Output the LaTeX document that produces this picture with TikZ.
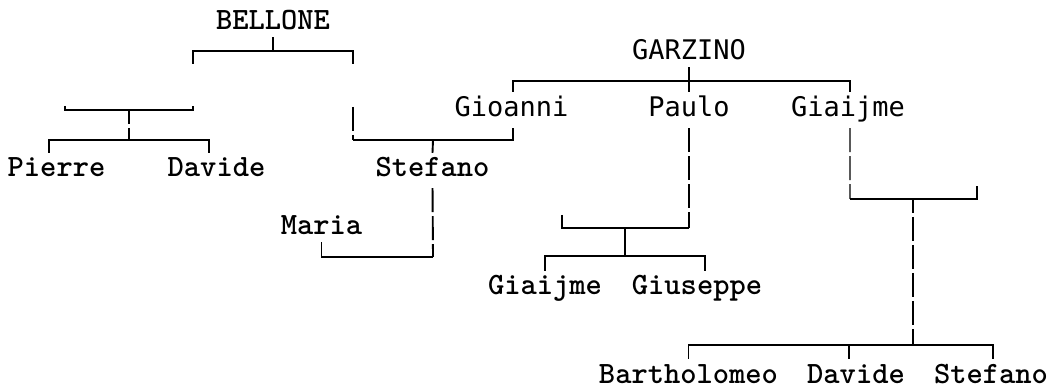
\documentclass[tikz,border=0pt]{standalone}
\usepackage{fontspec}
\newfontfamily\sansmono{DejaVu Sans Mono}
\tikzset{
  serifname/.style={anchor=base,inner xsep=0pt,inner ysep=7bp,text height=17bp,text depth=0pt,
    font=\fontsize{31bp}{31bp}\selectfont\ttfamily\bfseries},
  sansname/.style={anchor=base,inner xsep=0pt,inner ysep=7bp,text height=18bp,text depth=0pt,
    font=\fontsize{27bp}{27bp}\selectfont\sansmono},
  serifline/.style={line width=1.9bp},
  sansline/.style={line width=1.3bp},
  cellgap/.style={dash pattern=on 24bp off 4bp},
}
\begin{document}
\begin{tikzpicture}[line join=miter]
%%
\begin{scope}
  \fill [white] (0bp,0bp) rectangle (1049bp,385bp);
\end{scope}
  \node (bellone) at (273bp,355bp) [serifname] {BELLONE};
  \node (garzino) at (689bp,325bp) [sansname] {GARZINO};
  \node (gioanni) at (511.5bp,268bp) [sansname] {Gioanni};
  \node (paulo) at (689bp,268bp) [sansname] {Paulo};
  \node (giaijmeg) at (848bp,268bp) [sansname] {Giaijme};
  \node (pierre) at (56.5bp,208bp) [serifname] {Pierre};
  \node (davideb) at (216.5bp,208bp) [serifname] {Davide};
  \node (stefanob) at (432.5bp,208bp) [serifname] {Stefano};
  \node (maria) at (321.5bp,150bp) [serifname] {Maria};
  \node (giaijmep) at (545bp,90bp) [serifname] {Giaijme};
  \node (giuseppe) at (697bp,90bp) [serifname] {Giuseppe};
  \node (bartholomeo) at (688.5bp,2bp) [serifname] {Bartholomeo};
  \node (davideg) at (856bp,2bp) [serifname] {Davide};
  \node (stefanog) at (991bp,2bp) [serifname] {Stefano};
%
  \coordinate (bellmid) at (273bp,334bp);
  \coordinate (bellleft) at (193bp,321bp);
  \coordinate (bellright) at (353bp,321bp);
  \coordinate (pdleft) at (65bp,279bp);
  \coordinate (pdmid) at (129bp,275bp);
  \coordinate (pdright) at (193bp,279bp);
  \coordinate (pdkids) at (129bp,245bp);
  \coordinate (stleft) at (353bp,278bp);
  \coordinate (stcorner) at (353bp,245bp);
  \coordinate (stmid) at (433bp,245bp);
  \coordinate (mariacorner) at (433bp,128bp);
  \coordinate (garzmid) at (689bp,304bp);
  \coordinate (paulocorner) at (689bp,157bp);
  \coordinate (pauloleft) at (562bp,170bp);
  \coordinate (paulomid) at (625bp,157bp);
  \coordinate (paulokids) at (625bp,129bp);
  \coordinate (giacorner) at (850bp,186bp);
  \coordinate (giaright) at (977bp,199bp);
  \coordinate (giamid) at (913bp,186bp);
  \coordinate (giakids) at (913bp,40bp);
%% BELLONE
  \draw [serifline] (bellone.south) -- (bellmid);
  \draw [serifline] (bellleft) |- (bellmid) -| (bellright);
  \draw [serifline] (pdleft) |- (pdmid) -| (pdright);
  \draw [serifline,cellgap,dash phase=10bp] (pdmid) -- (pdkids);
  \draw [serifline] ([xshift=-7.5bp]pierre.north) |- (pdkids) -| ([xshift=-7.5bp]davideb.north);
  \draw [serifline,cellgap] (stleft) -- (stcorner);
  \draw [serifline,shorten >=4bp] (stcorner) -| ([xshift=1.5bp]gioanni.south);
  \draw [serifline] (stmid) -- (stefanob.north);
  \draw [serifline,cellgap,shorten <=4bp] (stefanob.south) -- (mariacorner);
  \draw [serifline] (mariacorner) -| (maria.south);
%% GARZINO
  \draw [sansline] (garzino.south) -- (paulo.north);
  \draw [sansline] ([xshift=1.5bp]gioanni.north) |- (garzmid) -| ([xshift=2bp]giaijmeg.north);
  \draw [sansline,cellgap,shorten <=4bp] (paulo.south) -- (paulocorner);
  \draw [serifline] (pauloleft) |- (paulocorner);
  \draw [serifline] (paulomid) -- (paulokids);
  \draw [serifline] (giaijmep.north) |- (paulokids) -| ([xshift=8bp]giuseppe.north);
  \draw [sansline,cellgap,shorten <=4bp] ([xshift=2bp]giaijmeg.south) -- (giacorner);
  \draw [serifline] (giacorner) -| (giaright);
  \draw [serifline,cellgap,dash phase=10bp] (giamid) -- (giakids);
  \draw [serifline] (bartholomeo.north) |- (giakids) -| ([xshift=2bp]stefanog.north);
  \draw [serifline] ([xshift=-7bp]davideg.north) -- ([xshift=-7bp]davideg.north |- giakids);
%
\end{tikzpicture}
\end{document}
